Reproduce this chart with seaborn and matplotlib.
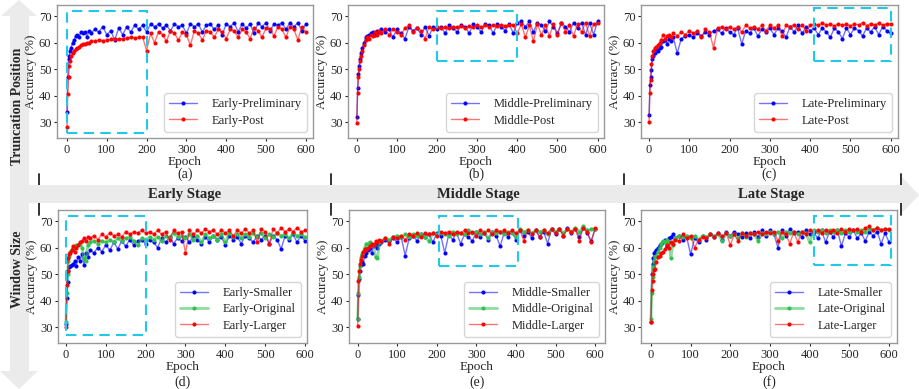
import numpy as np
import pandas as pd
import matplotlib
matplotlib.use("Agg")
import matplotlib.pyplot as plt
import seaborn as sns
from matplotlib.patches import Rectangle, Polygon

# epochs shared by every curve
epochs = [0, 2, 4, 6, 8, 10, 14, 18, 22, 26, 30, 35, 40, 45, 50, 55, 60] + list(range(70, 601, 10))

# (a) truncation position - early
early_pre = [34, 47, 54, 55, 57, 58, 60, 61, 62.5, 63, 62, 64, 63.5, 64, 62, 64.5, 63.5,
             65, 64, 66, 63, 64.5, 61, 65.5, 63, 66, 64, 66.5, 65, 66.5, 64, 67, 66, 67, 65.5,
             66.5, 64.5, 67, 66, 66.5, 63.5, 67, 66, 67, 64, 66.5, 67, 65, 66.5, 63, 67, 66,
             67.5, 64, 67, 65.5, 67, 63.5, 67.5, 66, 67.5, 64.5, 67, 66.5, 67.5, 65, 67.5, 66,
             67.5, 64.5, 67]
early_post = [28, 40.5, 47, 51, 53, 55, 56, 57, 57.5, 58, 58.5, 59, 59.5, 59.5, 60, 60, 60.5,
              60.5, 61, 60.8, 61, 61.2, 61.5, 61.3, 61.5, 61.8, 62, 61.8, 62, 62.2, 57, 63.5, 60,
              64, 63, 60.5, 64.5, 63.5, 61, 64, 63, 59, 64.5, 63.5, 61, 64.5, 64, 62, 65, 64,
              61.5, 65, 64.5, 62, 65, 64, 61.5, 65.5, 64.5, 62, 65.5, 65, 62.5, 66, 65, 62, 66,
              65, 61, 66, 64]

# (b) truncation position - middle
middle_pre = [32, 43, 48, 51, 54, 56, 58, 60, 62, 62.5, 63, 63.5, 64, 63, 64.5, 64, 65,
              64, 65, 62, 65, 63.5, 61.5, 66, 64.5, 65.5, 63, 66, 62.5, 66, 65, 66, 63.5, 66.5,
              65.5, 64, 66.5, 66, 63.5, 67, 66, 64, 67, 66.5, 63.5, 67, 66, 64.5, 67, 63.5,
              67.5, 68, 66, 68, 64, 67.5, 66.5, 64.5, 68, 66, 63.5, 67.5, 66, 64, 67.5, 65.5,
              67.5, 63, 67.5, 63, 68]
middle_post = [29.5, 41, 47, 50, 53, 55, 57, 59, 61, 62, 61.5, 63, 62.5, 64, 63, 64.5, 63.5,
               65, 63, 65, 64, 63, 65.5, 66.5, 64, 65.5, 64.5, 61.5, 66, 65, 66, 65.5, 66, 65.5,
               66, 65.8, 66.2, 65.5, 66.3, 65.8, 66.5, 66, 66.5, 66, 66.6, 66.2, 66.8, 66.3,
               66.8, 66.5, 63.5, 67, 62, 66.5, 60.5, 67, 63, 66.5, 62.5, 67, 63, 67.5, 64, 66.5,
               62.5, 67, 64, 67.5, 62.5, 67, 67.5]

# (c) truncation position - late
late_pre = [32.5, 44, 47, 49.5, 54, 55, 56, 57.5, 57, 58, 58.5, 60.5, 61, 59.5, 61.5, 60.5, 62,
            56, 61.5, 62.5, 63, 62, 63.5, 62.5, 64, 63, 64.5, 65, 63.5, 65.5, 64, 63, 65.5, 59.5,
            64.5, 63.5, 65.5, 62.5, 65, 64, 65.5, 63, 65.5, 64.5, 62, 66, 64, 66.5, 63.5, 66,
            64.5, 65.5, 63, 65.5, 64, 62, 65.5, 64, 61.5, 65.5, 63, 65.5, 64.5, 62.5, 65.5, 64,
            66, 63, 66, 64.5, 63.5]
late_post = [30, 41, 46, 52, 55, 57, 58, 58.5, 59, 60, 61, 63, 61.5, 62.5, 63, 62, 63.5,
             62.5, 64, 63, 64.5, 63.5, 64.5, 62, 65, 64, 58, 65.5, 66, 65, 66, 65, 66, 64, 66.5,
             65.5, 66, 65, 66.5, 64.5, 66.5, 65.5, 66.5, 62.5, 66.5, 66, 66.8, 65, 66.5, 64.5,
             66.5, 67, 66.5, 67.5, 66.5, 67, 66.2, 67.2, 66.5, 67, 66.3, 67.2, 66.6, 67.5, 66.4,
             67.2, 66.6, 67.4, 66.5, 67.2, 67]

# (d) window size - early
early_small = [31, 41, 47, 51, 52.5, 53, 53.5, 54, 55, 53, 56.5, 55, 57.5, 53.5, 58, 56.5, 59,
               58, 60, 58.5, 61, 59, 62, 59.5, 62.5, 60.5, 63, 61, 62.5, 63, 61.5, 63, 62, 60,
               63.5, 62, 64, 61.5, 63.5, 62.5, 64, 62, 64.5, 63, 61.5, 64, 62, 64.5, 63, 64, 61,
               64.5, 63, 64, 61.5, 64.5, 63.5, 62, 64.5, 63, 64.5, 61.5, 64.5, 63, 59.5, 64.5, 63,
               65, 62, 64.5, 62.5]
early_orig = [32, 43, 50, 55, 57, 58.5, 59, 60, 60.5, 61, 61, 61.5, 60, 56, 55, 61, 62,
              62.5, 61.5, 62.5, 62, 63, 62, 63.5, 62.5, 63.5, 64, 62.5, 61, 63.5, 63, 64, 63, 64,
              62.5, 64.5, 63.5, 65.5, 64, 64.5, 63.5, 65, 63, 64.5, 62, 65, 63.5, 64.5, 63, 65,
              62, 65.5, 64, 65, 63.5, 65, 64, 65.5, 64, 65.5, 63.5, 65, 64, 65.5, 64.5, 65, 63.5,
              65.5, 64.5, 65, 64]
early_large = [30, 46, 51, 56, 57.5, 58, 59, 60.5, 58.5, 60, 61, 62, 62.5, 63.5, 62.5, 64, 63.5,
               64.5, 63, 65, 64, 65.5, 64.5, 65, 64, 66, 65, 66, 65.5, 66.5, 65.5, 66, 65, 66.5,
               65, 66, 63, 66.5, 65.5, 66, 58, 66.5, 65, 66.5, 65.5, 67, 66, 66.5, 65, 66.5, 65.5,
               66.5, 64.5, 66.5, 65.5, 67, 65.5, 66.5, 62, 67, 66, 61.5, 67, 65.5, 67.5, 66, 67,
               66, 67.5, 66, 66.5]

# (e) window size - middle
middle_small = [33, 42, 48, 51, 53.5, 54.5, 54, 57, 58, 59, 60, 58, 60.5, 61.5, 60, 61.5, 62,
                63, 62.5, 63.5, 62, 64, 57, 63.5, 64.5, 62.5, 65, 64, 65, 62, 65.5, 64.5, 58, 65,
                63, 65.5, 61.5, 65, 64, 62.5, 66, 64, 65.5, 63, 66, 64.5, 60.5, 65.5, 64, 66, 63,
                66.5, 64.5, 66, 63.5, 66.5, 64, 66, 61.5, 67, 65, 67, 64.5, 67.5, 65.5, 67, 64,
                67.5, 65.5, 62.5, 67]
middle_orig = [33, 43, 49, 53, 56, 57.5, 58.5, 60, 61.5, 61.5, 62, 61.5, 61, 56.5, 56, 62, 62.5,
               63.5, 63, 64, 64.5, 64, 65, 64, 65, 64.5, 65, 64, 62.5, 65.5, 65, 65.5, 65, 64.5,
               66, 65, 65.5, 65, 66.5, 65.5, 66, 65, 66, 63.5, 66, 65.5, 66, 65, 66, 65.5, 64, 67,
               66, 66.5, 65.5, 66.5, 66, 66.5, 65, 67, 66, 67, 65.5, 67, 66, 67.5, 66, 68, 66.5,
               67, 67]
middle_large = [30.5, 47.5, 51, 54, 55.5, 57, 58.5, 59.5, 59, 60, 60.5, 61.5, 61, 62.5, 62, 63,
                62.5, 63.5, 61.5, 64, 63.5, 64.5, 63, 65, 64.5, 65.5, 64, 65.5, 65, 65.5, 64.5,
                66, 65.5, 66, 65, 66, 65.5, 66.5, 65.5, 66, 64.5, 66.5, 65.5, 66.5, 65, 66.5, 66,
                66.5, 65.5, 66.5, 65.5, 66.5, 62.5, 66.5, 65, 66.5, 64, 66.5, 65.5, 67, 65.5, 67,
                64.5, 67, 66, 67, 62.5, 67.5, 66, 62, 67.5]

# (f) window size - late
late_small = [32, 50, 54, 56, 58, 58.5, 59, 60, 61, 61.5, 62, 63, 60.5, 63.5, 64, 65, 63.5,
              64.5, 63, 64, 57.5, 63.5, 62, 64.5, 63, 65, 64, 65.5, 63, 66, 64.5, 66, 65, 64,
              65.5, 63.5, 66, 64, 66.5, 64.5, 66.5, 65, 60, 66.5, 64.5, 67, 65.5, 66, 64, 66.5,
              65, 66, 63.5, 66.5, 62, 66, 64, 66.5, 60.5, 65.5, 64, 66.5, 63.5, 65.5, 62.5, 66,
              64.5, 66, 61.5, 65.5, 62]
late_orig = [33, 43, 49, 52.5, 55, 56.5, 57, 58.5, 60, 61.5, 62.5, 62, 63, 62, 56, 61, 63.5,
             64.5, 64, 64.5, 63.5, 64.5, 63, 64.5, 64, 65, 64.5, 65, 62.5, 65.5, 64.5, 65, 63.5,
             65.5, 64, 65.5, 65, 62.5, 65.5, 65, 66, 65, 66, 63.5, 66, 65.5, 66, 65, 66, 65.5,
             62, 66.5, 66, 66.5, 65.5, 66.5, 66, 66.5, 65.5, 66.5, 66, 66.5, 66, 66.5, 66, 67,
             66.5, 67.5, 66.5, 67, 66.5]
late_large = [32, 44, 47.5, 50, 51.5, 52, 54.5, 56.5, 57, 58, 58.5, 59.5, 61, 60, 62, 61.5, 63,
              62.5, 65, 63.5, 64.5, 60, 63, 64, 63.5, 65, 64, 65.5, 64.5, 65.5, 61, 65, 62.5,
              65.5, 64.5, 65.5, 65, 66, 65, 66, 65.5, 66, 62.5, 66, 65, 61.5, 66, 62, 66, 65,
              66.5, 66, 66.5, 65.5, 66.5, 66, 66.5, 65.5, 67, 66, 67, 66.5, 67, 66, 67.5, 68,
              66.5, 67.5, 66.5, 67, 67]

panels = [
    ("(a)", [("Early-Preliminary", early_pre), ("Early-Post", early_post)], (0, 200, 26, 72)),
    ("(b)", [("Middle-Preliminary", middle_pre), ("Middle-Post", middle_post)], (200, 400, 53, 72)),
    ("(c)", [("Late-Preliminary", late_pre), ("Late-Post", late_post)], (410, 600, 53, 73)),
    ("(d)", [("Early-Smaller", early_small), ("Early-Original", early_orig), ("Early-Larger", early_large)], (0, 200, 27, 72)),
    ("(e)", [("Middle-Smaller", middle_small), ("Middle-Original", middle_orig), ("Middle-Larger", middle_large)], (205, 405, 53, 72)),
    ("(f)", [("Late-Smaller", late_small), ("Late-Original", late_orig), ("Late-Larger", late_large)], (410, 605, 53.5, 72)),
]

# pixel boxes (left, top, right, bottom) and x limits
boxes = [(57, 5, 313, 138), (348, 5, 604, 138), (641, 5, 898, 138),
         (58, 210, 307, 343), (349, 210, 605, 343), (641, 210, 897, 343)]
xlims = [(-25, 618), (-22, 616), (-20, 618), (-20, 605), (-22, 625), (-25, 620)]

W, H = 919, 389

sns.set_style("white")
plt.rcParams['font.family'] = ['Liberation Serif', 'DejaVu Serif']

fig = plt.figure(figsize=(W / 100, H / 100), dpi=100)

# background arrows drawn in a pixel-space overlay
bg = fig.add_axes([0, 0, 1, 1], zorder=-5)
bg.set_xlim(0, W)
bg.set_ylim(H, 0)
bg.axis("off")
grey = "#ebebeb"
bg.add_patch(Polygon([(19, 0), (37, 16), (29, 16), (29, 371), (38, 371), (19, 389), (0, 371),
                      (10, 371), (10, 16), (1, 16)], closed=True, color=grey, lw=0))
for xt in [39, 331, 624, 901]:
    bg.plot([xt, xt], [174, 215], color="#222222", lw=1.3)
bg.add_patch(Polygon([(10, 185), (902, 185), (902, 177), (919, 195), (902, 213), (902, 203), (10, 203)],
                     closed=True, color=grey, lw=0, zorder=3))
bg.text(17.5, 106, "Truncation Position", rotation=90, ha="center", va="center",
        fontsize=10, fontweight="bold", zorder=4)
bg.text(17.5, 269, "Window Size", rotation=90, ha="center", va="center",
        fontsize=10, fontweight="bold", zorder=4)
for xc, lab in [(185, "Early Stage"), (478, "Middle Stage"), (771, "Late Stage")]:
    bg.text(xc, 194, lab, ha="center", va="center", fontsize=10.5, fontweight="bold", zorder=4)

colors2 = ["blue", "red"]
colors3 = ["blue", "#2fc24f", "red"]

for i, (cap, series, rect) in enumerate(panels):
    l, t, r, b = boxes[i]
    ax = fig.add_axes([l / W, 1 - b / H, (r - l) / W, (b - t) / H])
    cols = colors2 if len(series) == 2 else colors3
    for (name, vals), c in zip(series, cols):
        df = pd.DataFrame({"Epoch": epochs, "Accuracy": vals})
        lw = 2.0 if c == "#2fc24f" else 1.0
        sns.lineplot(data=df, x="Epoch", y="Accuracy", ax=ax, color=c, marker="o",
                     markersize=2.2, linewidth=lw, label=name)
        ln = ax.lines[-1]
        ln.set_color(matplotlib.colors.to_rgba(c, 0.55))
        ln.set_markerfacecolor(c)
        ln.set_markeredgecolor(c)
    x0, x1, y0, y1 = rect
    ax.add_patch(Rectangle((x0, y0), x1 - x0, y1 - y0, fill=False, ls=(0, (5, 3)),
                           ec="#22c8e8", lw=1.5, zorder=5))
    ax.set_xlim(*xlims[i])
    ax.set_ylim(24, 74.2)
    ax.set_xticks([0, 100, 200, 300, 400, 500, 600])
    ax.set_yticks([30, 40, 50, 60, 70])
    ax.tick_params(labelsize=9, length=2.5, width=0.8, pad=1.5, direction="out",
                   bottom=True, left=True)
    ax.set_xlabel("Epoch", fontsize=9.5, labelpad=0)
    ax.set_ylabel("Accuracy (%)", fontsize=9.5, labelpad=1)
    for sp in ax.spines.values():
        sp.set_color("#999999")
        sp.set_linewidth(1.0)
    ax.legend(loc="lower right", fontsize=9, handlelength=2.2, handletextpad=1.2,
              frameon=True, borderaxespad=0.5, labelspacing=0.35)
    cy = 174 if i < 3 else 382
    bg.text((l + r) / 2, cy, cap, ha="center", va="center", fontsize=10, zorder=5)

fig.savefig("out.png", dpi=100)
